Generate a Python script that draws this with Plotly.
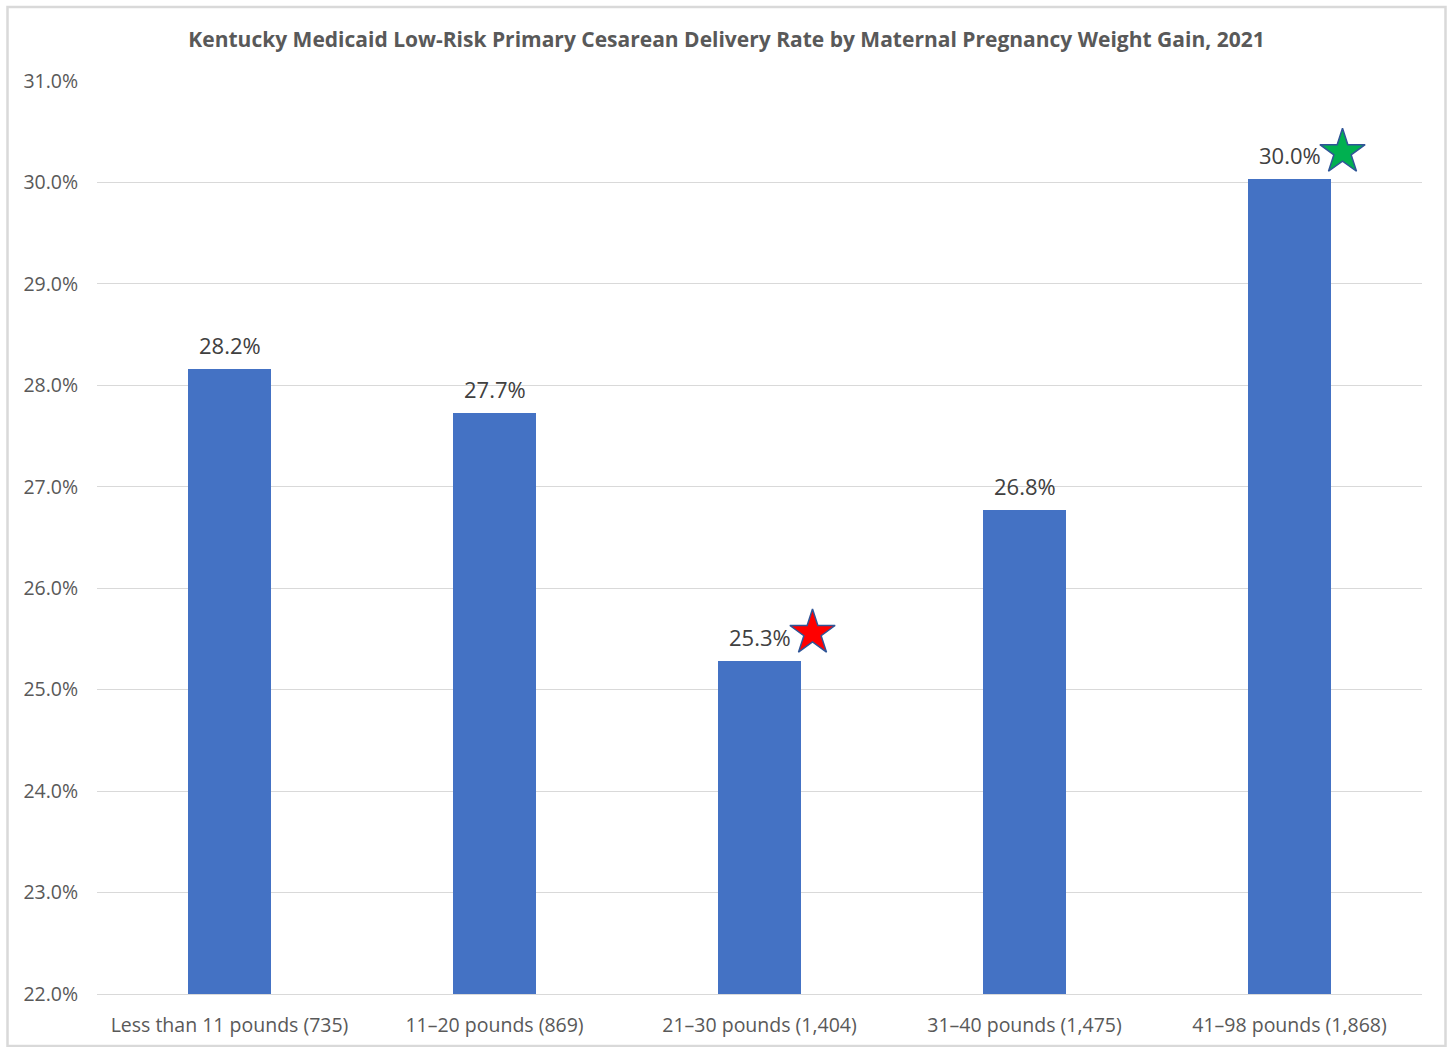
import plotly.graph_objects as go

categories = ["Less than 11 pounds (735)", "11\u201320 pounds (869)", "21\u201330 pounds (1,404)",
              "31\u201340 pounds (1,475)", "41\u201398 pounds (1,868)"]
rates = [28.16, 27.73, 25.28, 26.77, 30.03]
rate_labels = ["28.2%", "27.7%", "25.3%", "26.8%", "30.0%"]
star_index = [2, 4]
star_values = [25.56, 30.30]
star_colors = ["#FF0000", "#00B050"]
y_ticks = [22, 23, 24, 25, 26, 27, 28, 29, 30, 31]
y_tick_labels = ["22.0%", "23.0%", "24.0%", "25.0%", "26.0%", "27.0%", "28.0%", "29.0%", "30.0%", "31.0%"]

W, H = 1448, 1047
L, R, T, B = 97, 26, 81, 53
pw, ph = W - L - R, H - T - B

font = "Open Sans"
xs = list(range(len(categories)))

fig = go.Figure()
fig.add_trace(go.Bar(
    x=xs, y=rates, width=0.31, marker=dict(color="#4472C4", line=dict(width=0)),
    hoverinfo="skip",
))
fig.add_trace(go.Scatter(
    x=[xs[i] + 0.2 for i in star_index], y=star_values, mode="markers",
    marker=dict(symbol="star", size=34, color=star_colors,
                line=dict(color="#2F5597", width=1.5)),
    cliponaxis=False, hoverinfo="skip",
))

annotations = [dict(x=x, y=v, text=t, showarrow=False, xref="x", yref="y",
                    yanchor="middle", yshift=24,
                    font=dict(family=font, size=22, color="#404040"))
               for x, v, t in zip(xs, rates, rate_labels)]

fig.update_layout(
    width=W, height=H, showlegend=False,
    margin=dict(l=L, r=R, t=T, b=B, pad=0),
    paper_bgcolor="white", plot_bgcolor="white",
    bargap=0,
    annotations=annotations,
    title=dict(text="<b>Kentucky Medicaid Low-Risk Primary Cesarean Delivery Rate by Maternal Pregnancy Weight Gain, 2021</b>",
               x=(185 + 1268) / 2 / W, xanchor="center", y=1 - 40 / H, yanchor="middle",
               font=dict(family=font, size=21, color="#595959")),
    xaxis=dict(range=[-0.5, 4.5], tickmode="array", tickvals=xs, ticktext=categories,
               showgrid=False, zeroline=False, showline=True, linecolor="#D9D9D9", linewidth=1,
               ticks="outside", ticklen=14, tickcolor="rgba(0,0,0,0)", automargin=False,
               tickfont=dict(family=font, size=19.5, color="#595959")),
    yaxis=dict(range=[22, 31], tickmode="array", tickvals=y_ticks, ticktext=y_tick_labels,
               showgrid=True, gridcolor="#D9D9D9", gridwidth=1, zeroline=False,
               showline=False, ticks="outside", ticklen=14, tickcolor="rgba(0,0,0,0)",
               automargin=False,
               tickfont=dict(family=font, size=19.5, color="#595959")),
    shapes=[dict(type="rect", xref="paper", yref="paper",
                 x0=(7.5 - L) / pw, x1=(1445.5 - L) / pw,
                 y0=(H - B - 1046) / ph, y1=1 + (T - 7) / ph,
                 line=dict(color="#D9D9D9", width=2.5), fillcolor="rgba(0,0,0,0)", layer="below")],
)

fig.write_html("out.html")
